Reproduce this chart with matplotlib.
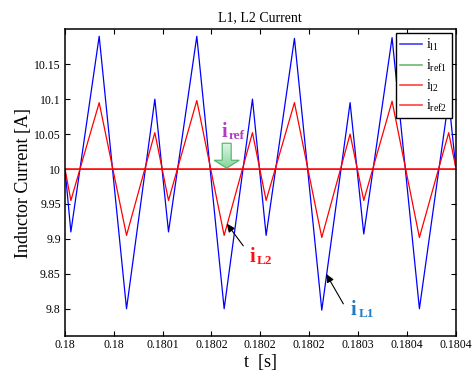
import matplotlib
matplotlib.use("Agg")
import matplotlib.pyplot as plt
import matplotlib.transforms as mtransforms
from matplotlib.patches import Polygon
from matplotlib.colors import LinearSegmentedColormap
import numpy as np

# Vertex times of the triangular ripple, in microseconds after t = 0.18 s
t_us = [0, 6, 35, 63, 92, 106, 135, 163, 192, 206, 235, 263, 292, 306, 335, 363, 393, 400]

# Inductor currents at those vertices [A]
i_l1 = [10.0, 9.91, 10.19, 9.80, 10.10, 9.91, 10.19, 9.80, 10.10, 9.905,
        10.187, 9.798, 10.095, 9.907, 10.188, 9.80, 10.10, 10.005]
i_l2 = [10.0, 9.955, 10.095, 9.905, 10.052, 9.955, 10.098, 9.905, 10.052, 9.955,
        10.095, 9.902, 10.05, 9.955, 10.097, 9.902, 10.052, 10.004]

# Current references [A]
i_ref1 = 10.0
i_ref2 = 10.0

x_ticks_us = [0, 50, 100, 150, 200, 250, 300, 350, 400]
x_tick_labels = ["0.18", "0.18", "0.1801", "0.1802", "0.1802", "0.1802", "0.1803", "0.1804", "0.1804"]
y_ticks = [9.8, 9.85, 9.9, 9.95, 10.0, 10.05, 10.1, 10.15]
y_tick_labels = ["9.8", "9.85", "9.9", "9.95", "10", "10.05", "10.1", "10.15"]

plt.rcParams["font.family"] = ["Liberation Serif", "DejaVu Serif"]
plt.rcParams["mathtext.fontset"] = "custom"
plt.rcParams["mathtext.rm"] = "Liberation Serif"
plt.rcParams["mathtext.it"] = "Liberation Serif:italic"
plt.rcParams["mathtext.bf"] = "Liberation Serif:bold"

t = 0.18 + np.array(t_us) * 1e-6

fig = plt.figure(figsize=(4.77, 3.76), dpi=100, facecolor="white")
ax = fig.add_axes([0.1363, 0.1064, 0.8187, 0.8157])

ax.plot(t, i_l1, color="#0000FF", lw=0.9, label=r"$\mathrm{i}_{\mathrm{l1}}$")
ax.axhline(i_ref1, color="#40A040", lw=0.7, label=r"$\mathrm{i}_{\mathrm{ref1}}$")
ax.plot(t, i_l2, color="#FF0000", lw=0.9, label=r"$\mathrm{i}_{\mathrm{l2}}$")
ax.axhline(i_ref2, color="#FF0000", lw=1.1, label=r"$\mathrm{i}_{\mathrm{ref2}}$")

ax.set_xticks(0.18 + np.array(x_ticks_us) * 1e-6)
ax.set_xticklabels(x_tick_labels)
ax.set_yticks(y_ticks)
ax.set_yticklabels(y_tick_labels)
ax.tick_params(direction="in", length=3.5, width=0.8, top=True, right=True,
               labelsize=8.5, pad=3)
ax.tick_params(axis="x", pad=2.5)
for sp in ax.spines.values():
    sp.set_linewidth(1.1)

ax.set_xlabel("t  [s]", fontsize=13, labelpad=2)
ax.set_ylabel("Inductor Current [A]", fontsize=13, labelpad=1.5)
ax.set_title("L1, L2 Current", fontsize=10, pad=6)

leg = ax.legend(loc="upper right", fontsize=10, frameon=True, fancybox=False,
                framealpha=1, edgecolor="black", borderaxespad=0.28,
                handlelength=1.6, handletextpad=0.3, labelspacing=0.3,
                borderpad=0.3)
leg.get_frame().set_linewidth(1.0)
leg.set_zorder(10)
for line in leg.get_lines():
    line.set_linewidth(1.2)
    line.set_alpha(0.75)


def sub_label(x, y, main, sub, color, dx=4.8):
    ax.text(x, y, main, transform=ax.transAxes, fontsize=14.5, fontweight="bold",
            color=color, va="baseline", ha="left", zorder=8)
    tr = mtransforms.offset_copy(ax.transAxes, fig=fig, x=dx, y=-1.5, units="points")
    ax.text(x, y, sub, transform=tr, fontsize=9.5, fontweight="bold",
            color=color, va="baseline", ha="left", zorder=8)


# Reference marker: green block arrow pointing down at the 10 A line
arrow_tr = fig.dpi_scale_trans + mtransforms.ScaledTranslation(0.414, 0.547, ax.transAxes)
px = np.array([(-4.5, 25), (4.5, 25), (4.5, 8), (12.5, 8), (0, 0), (-12.5, 8), (-4.5, 8)]) / 100.0
arrow = Polygon(px, closed=True, transform=arrow_tr, facecolor="none",
                edgecolor="#4DB06A", lw=0.8, zorder=7)
ax.add_patch(arrow)
grad = np.linspace(0, 1, 64).reshape(-1, 1)
cmap = LinearSegmentedColormap.from_list("arrow_green", ["#86D69C", "#E2F7E8"])
im = ax.imshow(grad, cmap=cmap, extent=(-0.13, 0.13, 0.0, 0.26), origin="lower",
               transform=arrow_tr, aspect="auto", zorder=6, interpolation="bilinear")
im.set_clip_path(arrow)

sub_label(0.401, 0.650, "i", "ref", "#B23AC4")
sub_label(0.472, 0.242, "i", "L2", "#FF1010", dx=5.5)
sub_label(0.732, 0.068, "i", "L1", "#1F7BC6", dx=5.5)

arrow_kw = dict(arrowstyle="-|>,head_length=0.5,head_width=0.22", color="black", lw=0.8,
                shrinkA=0, shrinkB=0)
ax.annotate("", xy=(0.18 + 165.6e-6, 9.922), xytext=(0.18 + 182.6e-6, 9.890),
            arrowprops=arrow_kw, zorder=8)
ax.annotate("", xy=(0.18 + 267.4e-6, 9.850), xytext=(0.18 + 285.1e-6, 9.807),
            arrowprops=arrow_kw, zorder=8)

ax.set_xlim(0.18, 0.1804)
ax.set_ylim(9.761, 10.2)

fig.savefig("out.png", dpi=100, facecolor="white")
